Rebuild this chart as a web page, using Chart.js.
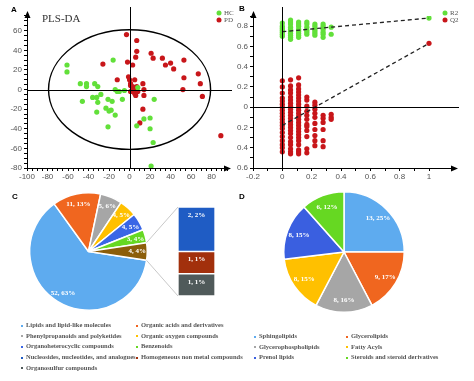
<!doctype html>
<html lang="en">
<head>
<meta charset="utf-8">
<title>PLS-DA, permutation test and metabolite classes</title>
<script src="https://cdn.jsdelivr.net/npm/chart.js"></script>
<style>
  body { margin:0; background:#fff; width:474px; height:381px; position:relative; overflow:hidden; }
  canvas { position:absolute; }
  .tag { position:absolute; font:bold 8px "Liberation Sans", sans-serif; color:#000; }
  .legend { position:absolute; left:0; top:0; font:bold 6.5px "Liberation Serif", serif; color:#555; }
  .legend div { position:absolute; white-space:nowrap; line-height:8px; }
  .legend span { display:inline-block; width:2px; height:2px; margin-right:3px; vertical-align:middle; }
</style>
</head>
<body>
<canvas id="chartA" width="237" height="190" style="left:0;top:0"></canvas>
<canvas id="chartB" width="237" height="190" style="left:237px;top:0"></canvas>
<canvas id="chartC" width="237" height="125" style="left:0;top:190px"></canvas>
<canvas id="chartCBar" width="237" height="125" style="left:0;top:190px"></canvas>
<canvas id="chartD" width="237" height="125" style="left:237px;top:190px"></canvas>
<div class="tag" style="left:11px;top:5px">A</div>
<div class="tag" style="left:239px;top:4px">B</div>
<div class="tag" style="left:12px;top:192px">C</div>
<div class="tag" style="left:239px;top:192px">D</div>
<div class="legend" id="legendC"></div>
<div class="legend" id="legendD"></div>
<script>
// ---- A: PLS-DA score plot ----
const hcX = [-61,-61,-48,-42,-42,-34,-31,-46,-36,-32,-28,-31,-32,-23,-21,-17,-20,-18,-21,-14,-16,-14,-12,-10,-5,-7,24,8,14,20,7,20,23,21];
const hcY = [25,18,6,6,3,6,3,-12,-8,-8,-5,-13,-23,-19,-10,-12,-22,-21,-38,-26,30,0,-2,-2,-1,-10,-10,2,-30,-29,-37,-40,-54,-78];
const pdX = [-3,7,7,-26,-2,3,6,21,23,32,35,40,43,53,53,52,67,69,71,89,-12,-1,0,1,5,3,4,1,5,6,8,7,13,14,14,13,10,1];
const pdY = [56,50,39,26,28,25,33,37,32,32,25,27,21,30,12,0,16,6,-7,-47,10,13,10,6,10,3,0,-2,-4,-6,-2,3,6,0,-6,-20,-34,4];
const ellipseRadii = [79, 61];

// ---- B: permutation test ----
const permX = [0, 0.056, 0.111, 0.167, 0.222, 0.278, 0.333, 1];
const r2Cols = [
  [0.83,0.80,0.78,0.76,0.74,0.72,0.70],
  [0.86,0.84,0.82,0.79,0.77,0.75,0.73,0.71,0.69,0.67],
  [0.84,0.82,0.80,0.77,0.75,0.73,0.71,0.69],
  [0.84,0.82,0.79,0.76,0.74,0.72],
  [0.82,0.80,0.77,0.75,0.73,0.71],
  [0.82,0.80,0.77,0.74,0.72,0.69],
  [0.79,0.72],
  [0.88]
];
const q2Cols = [
  [0.26,0.20,0.14,0.09,0.06,0.03,0.00,-0.03,-0.06,-0.09,-0.12,-0.15,-0.18,-0.21,-0.25,-0.29,-0.33,-0.37,-0.40,-0.44],
  [0.27,0.21,0.17,0.14,0.10,0.07,0.04,0.01,-0.02,-0.05,-0.08,-0.11,-0.14,-0.17,-0.20,-0.23,-0.26,-0.30,-0.34,-0.37,-0.41,-0.44,-0.46],
  [0.29,0.22,0.18,0.15,0.12,0.09,0.06,0.03,0.00,-0.03,-0.06,-0.09,-0.12,-0.15,-0.18,-0.21,-0.24,-0.27,-0.30,-0.33,-0.37,-0.42,-0.44,-0.46],
  [0.10,0.07,0.01,-0.04,-0.08,-0.12,-0.17,-0.19,-0.23,-0.29,-0.41,-0.45],
  [0.05,0.02,-0.02,-0.06,-0.10,-0.16,-0.22,-0.28,-0.33,-0.38],
  [-0.08,-0.11,-0.15,-0.22,-0.33,-0.39],
  [-0.07,-0.10,-0.12],
  [0.63]
];
const fitX = [0, 1];
const r2Fit = [0.745, 0.88];
const q2Fit = [-0.18, 0.63];

// ---- C: metabolite classes ----
const classNames = ['Lipids and lipid-like molecules','Organic acids and derivatives','Phenylpropanoids and polyketides','Organic oxygen compounds','Organoheterocyclic compounds','Benzenoids','Nucleosides, nucleotides, and analogues','Homogeneous non metal compounds','Organosulfur compounds'];
const classCounts = [52, 11, 5, 4, 4, 3, 2, 1, 1];
const classPct = [63, 13, 6, 5, 5, 4, 2, 1, 1];
const classColors = ['#5EABEF','#F0661F','#A6A6A6','#FFC000','#3A66E6','#66D822','#1F5CC4','#A2300C','#505A5A'];
const otherColor = '#8C5E0A';

// ---- D: lipid classes ----
const lipidNames = ['Sphingolipids','Glycerolipids','Glycerophospholipids','Fatty Acyls','Prenol lipids','Steroids and steroid derivatives'];
const lipidCounts = [13, 9, 8, 8, 8, 6];
const lipidPct = [25, 17, 16, 15, 15, 12];
const lipidColors = ['#5EABEF','#F0661F','#A6A6A6','#FFC000','#3A5FE0','#66D822'];

const GREEN = '#62E03A', RED = '#C8161A';
const tickFont = {family: 'Liberation Sans', size: 8};

function toPts(xs, ys) { return xs.map((x, i) => ({x: x, y: ys[i]})); }

function arrowUp(ctx, x, y) {
  ctx.beginPath(); ctx.moveTo(x, y); ctx.lineTo(x - 3, y + 7); ctx.lineTo(x + 3, y + 7); ctx.closePath(); ctx.fill();
}
function arrowRight(ctx, x, y) {
  ctx.beginPath(); ctx.moveTo(x, y); ctx.lineTo(x - 7, y - 3); ctx.lineTo(x - 7, y + 3); ctx.closePath(); ctx.fill();
}
function drawKey(ctx, x, y, names, colors) {
  ctx.font = '7px "Liberation Serif", serif';
  ctx.textBaseline = 'middle';
  names.forEach((n, i) => {
    ctx.fillStyle = colors[i];
    ctx.beginPath(); ctx.arc(x, y + i * 7, 2.5, 0, Math.PI * 2); ctx.fill();
    ctx.fillStyle = '#555';
    ctx.fillText(n, x + 5, y + i * 7);
  });
}

// axis decorations for the two scatter panels
const axesDecor = {
  id: 'axesDecor',
  afterDatasetsDraw(chart, args, o) {
    const {ctx, chartArea: a, scales: {x, y}} = chart;
    ctx.save();
    ctx.strokeStyle = '#000'; ctx.fillStyle = '#000'; ctx.lineWidth = 1;
    // axes extended to arrows
    ctx.beginPath();
    ctx.moveTo(a.left + 0.5, a.top); ctx.lineTo(a.left + 0.5, o.topTip + 4);
    ctx.moveTo(a.right, a.bottom + 0.5); ctx.lineTo(o.rightTip - 4, a.bottom + 0.5);
    // zero cross lines
    const x0 = Math.round(x.getPixelForValue(0)) + 0.5, y0 = Math.round(y.getPixelForValue(0)) + 0.5;
    ctx.moveTo(x0, a.bottom); ctx.lineTo(x0, o.topTip - 4);
    ctx.moveTo(a.left, y0); ctx.lineTo(o.rightTip + 1, y0);
    ctx.stroke();
    arrowUp(ctx, a.left + 0.5, o.topTip);
    arrowRight(ctx, o.rightTip, a.bottom + 0.5);
    if (o.ellipse) {
      const rx = x.getPixelForValue(o.ellipse[0]) - x.getPixelForValue(0);
      const ry = y.getPixelForValue(0) - y.getPixelForValue(o.ellipse[1]);
      ctx.lineWidth = 1.4;
      ctx.beginPath(); ctx.ellipse(x.getPixelForValue(0), y.getPixelForValue(0), rx, ry, 0, 0, Math.PI * 2); ctx.stroke();
    }
    if (o.title) {
      ctx.font = '11px "Liberation Serif", serif';
      ctx.fillStyle = '#333'; ctx.textBaseline = 'middle';
      ctx.fillText(o.title, 42, 19);
    }
    drawKey(ctx, o.key[0], o.key[1], o.keyNames, [GREEN, RED]);
    ctx.restore();
  }
};

function axisOpts(min, max, step, labelEvery, size, isX) {
  return {
    type: 'linear', min: min, max: max,
    afterFit(s) { if (isX) s.height = size; else s.width = size; },
    border: {color: '#000', width: 1},
    grid: {drawOnChartArea: false, tickLength: 3, color: '#000'},
    ticks: {
      stepSize: step, maxTicksLimit: 200, autoSkip: false, maxRotation: 0, padding: isX ? 1 : 2,
      color: '#555', font: tickFont,
      callback: v => (Math.round(v / step) % labelEvery === 0 ? String(+v.toFixed(1)) : '')
    }
  };
}

new Chart(document.getElementById('chartA'), {
  type: 'scatter',
  data: {datasets: [
    {label: 'HC', data: toPts(hcX, hcY), backgroundColor: GREEN, pointRadius: 2.6, borderWidth: 0},
    {label: 'PD', data: toPts(pdX, pdY), backgroundColor: RED, pointRadius: 2.6, borderWidth: 0}
  ]},
  options: {
    responsive: false, animation: false,
    layout: {padding: {top: 15, right: 10, left: 0, bottom: 0}},
    scales: {x: axisOpts(-100, 95, 5, 4, 22, true), y: axisOpts(-80, 76, 5, 4, 27, false)},
    plugins: {
      legend: {display: false}, tooltip: {enabled: false},
      axesDecor: {topTip: 11, rightTip: 231, ellipse: ellipseRadii, title: 'PLS-DA', key: [219, 13], keyNames: ['HC', 'PD']}
    }
  },
  plugins: [axesDecor]
});

const r2Pts = [], q2Pts = [];
permX.forEach((x, i) => {
  r2Cols[i].forEach(v => r2Pts.push({x: x, y: v}));
  q2Cols[i].forEach(v => q2Pts.push({x: x, y: v}));
});

new Chart(document.getElementById('chartB'), {
  type: 'scatter',
  data: {datasets: [
    {type: 'line', data: toPts(fitX, r2Fit), borderColor: '#222', borderWidth: 1.3, borderDash: [4, 3], pointRadius: 0, order: 0},
    {type: 'line', data: toPts(fitX, q2Fit), borderColor: '#222', borderWidth: 1.3, borderDash: [4, 3], pointRadius: 0, order: 0},
    {label: 'R2', data: r2Pts, backgroundColor: GREEN, pointRadius: 2.6, borderWidth: 0, order: 1},
    {label: 'Q2', data: q2Pts, backgroundColor: RED, pointRadius: 2.6, borderWidth: 0, order: 1}
  ]},
  options: {
    responsive: false, animation: false,
    layout: {padding: {top: 16, right: 23, left: 0, bottom: 0}},
    scales: {x: axisOpts(-0.2, 1.15, 0.1, 2, 22, true), y: axisOpts(-0.6, 0.9, 0.1, 2, 16, false)},
    plugins: {
      legend: {display: false}, tooltip: {enabled: false},
      axesDecor: {topTip: 11, rightTip: 221, key: [208, 13], keyNames: ['R2', 'Q2']}
    }
  },
  plugins: [axesDecor]
});

// value labels inside pie slices
const sliceLabels = {
  id: 'sliceLabels',
  afterDatasetsDraw(chart, args, o) {
    const ctx = chart.ctx;
    ctx.save();
    ctx.font = 'bold 7px "Liberation Serif", serif';
    ctx.fillStyle = '#fff'; ctx.textAlign = 'center'; ctx.textBaseline = 'middle';
    chart.getDatasetMeta(0).data.forEach((arc, i) => {
      const mid = (arc.startAngle + arc.endAngle) / 2;
      const r = arc.outerRadius * o.at;
      ctx.fillText(o.text[i], arc.x + Math.cos(mid) * r, arc.y + Math.sin(mid) * r);
    });
    ctx.restore();
  }
};

const mainIdx = [0, 1, 2, 3, 4, 5];
const otherIdx = [6, 7, 8];
const otherCount = otherIdx.reduce((s, i) => s + classCounts[i], 0);
const otherPct = otherIdx.reduce((s, i) => s + classPct[i], 0);
const totalC = classCounts.reduce((s, v) => s + v, 0);
const pieCCounts = mainIdx.map(i => classCounts[i]).concat([otherCount]);
const pieCText = mainIdx.map(i => classCounts[i] + ', ' + classPct[i] + '%').concat([otherCount + ', ' + otherPct + '%']);

const pieC = new Chart(document.getElementById('chartC'), {
  type: 'pie',
  data: {labels: classNames.slice(0, 6).concat(['Other']), datasets: [{
    data: pieCCounts,
    backgroundColor: mainIdx.map(i => classColors[i]).concat([otherColor]),
    borderColor: '#fff', borderWidth: 1.5
  }]},
  options: {
    responsive: false, animation: false,
    rotation: 90 + otherCount / totalC * 180,
    layout: {padding: {left: 29, top: 2, right: 89, bottom: 4}},
    plugins: {legend: {display: false}, tooltip: {enabled: false}, sliceLabels: {at: 0.83, text: pieCText}}
  },
  plugins: [sliceLabels]
});

// bar of pie + connector lines
const barOfPie = {
  id: 'barOfPie',
  afterDatasetsDraw(chart) {
    const ctx = chart.ctx;
    ctx.save();
    const arc = pieC.getDatasetMeta(0).data[6];
    const top = chart.getDatasetMeta(chart.data.datasets.length - 1).data[0];
    const bot = chart.getDatasetMeta(0).data[0];
    ctx.strokeStyle = '#C8C8C8'; ctx.lineWidth = 1;
    ctx.beginPath();
    ctx.moveTo(arc.x + Math.cos(arc.startAngle) * arc.outerRadius, arc.y + Math.sin(arc.startAngle) * arc.outerRadius);
    ctx.lineTo(top.x - top.width / 2, top.y);
    ctx.moveTo(arc.x + Math.cos(arc.endAngle) * arc.outerRadius, arc.y + Math.sin(arc.endAngle) * arc.outerRadius);
    ctx.lineTo(bot.x - bot.width / 2, bot.base);
    ctx.stroke();
    ctx.font = 'bold 7px "Liberation Serif", serif';
    ctx.fillStyle = '#fff'; ctx.textAlign = 'center'; ctx.textBaseline = 'middle';
    chart.data.datasets.forEach((ds, i) => {
      const bar = chart.getDatasetMeta(i).data[0];
      ctx.fillText(ds.text, bar.x, bar.y + 8);
    });
    ctx.restore();
  }
};

new Chart(document.getElementById('chartCBar'), {
  type: 'bar',
  data: {labels: ['Other'], datasets: otherIdx.slice().reverse().map(i => ({
    label: classNames[i], data: [classCounts[i]], text: classCounts[i] + ', ' + classPct[i] + '%',
    backgroundColor: classColors[i], borderColor: '#fff', borderWidth: 1, borderSkipped: false,
    barPercentage: 1, categoryPercentage: 1
  }))},
  options: {
    responsive: false, animation: false,
    layout: {padding: {left: 178, right: 22, top: 17, bottom: 19}},
    scales: {x: {display: false, stacked: true}, y: {display: false, stacked: true, min: 0, max: otherCount}},
    plugins: {legend: {display: false}, tooltip: {enabled: false}}
  },
  plugins: [barOfPie]
});

new Chart(document.getElementById('chartD'), {
  type: 'pie',
  data: {labels: lipidNames, datasets: [{
    data: lipidCounts, backgroundColor: lipidColors, borderColor: '#fff', borderWidth: 1.5
  }]},
  options: {
    responsive: false, animation: false,
    layout: {padding: {left: 46, top: 1, right: 69, bottom: 2}},
    plugins: {legend: {display: false}, tooltip: {enabled: false},
      sliceLabels: {at: 0.8, text: lipidCounts.map((c, i) => c + ', ' + lipidPct[i] + '%')}}
  },
  plugins: [sliceLabels]
});

// two-column HTML legends
function buildLegend(id, names, colors, colX, top0, rowH) {
  const el = document.getElementById(id);
  names.forEach((n, i) => {
    const d = document.createElement('div');
    d.style.left = colX[i % 2] + 'px';
    d.style.top = (top0 + Math.floor(i / 2) * rowH) + 'px';
    d.innerHTML = '<span style="background:' + colors[i] + '"></span>' + n;
    el.appendChild(d);
  });
}
buildLegend('legendC', classNames, classColors, [21, 136], 321, 10.7);
buildLegend('legendD', lipidNames, lipidColors, [254, 346], 332, 10.7);
</script>
</body>
</html>
